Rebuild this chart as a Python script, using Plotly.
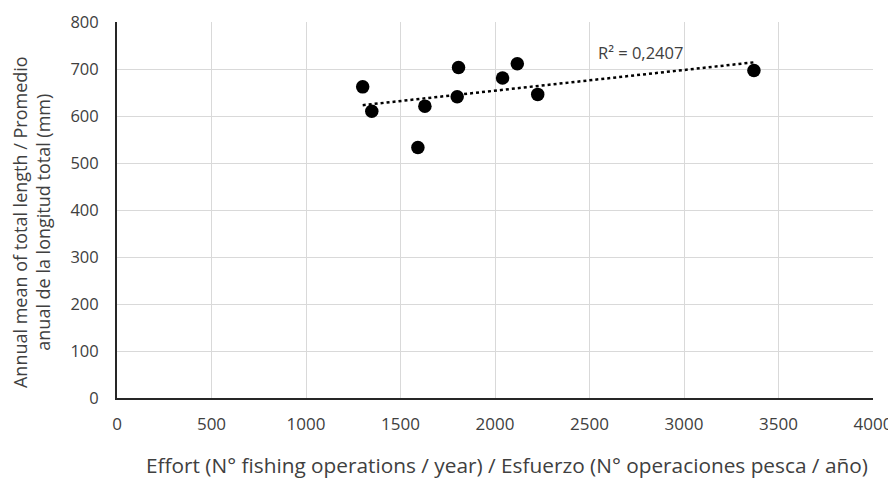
import numpy as np
import plotly.graph_objects as go

effort = [1300, 1348, 1592, 1629, 1807, 1800, 2040, 2118, 2226, 3370]
mean_length = [662, 610, 533, 621, 703, 641, 681, 711, 646, 697]
x_ticks = [0, 500, 1000, 1500, 2000, 2500, 3000, 3500, 4000]
y_ticks = [0, 100, 200, 300, 400, 500, 600, 700, 800]
r2_label = "R² = 0,2407"
x_title = "Effort (N° fishing operations / year) / Esfuerzo (N° operaciones pesca / año)"
y_title = "Annual mean of total length / Promedio<br>anual de la longitud total (mm)"

slope, intercept = np.polyfit(effort, mean_length, 1)
tx = [min(effort), max(effort)]
ty = [slope * v + intercept for v in tx]

font_family = "Open Sans"
text_color = "#404040"
fig = go.Figure()
fig.add_trace(go.Scatter(x=tx, y=ty, mode="lines",
                         line=dict(color="black", width=2.5, dash="dot"),
                         showlegend=False, hoverinfo="skip"))
fig.add_trace(go.Scatter(x=effort, y=mean_length, mode="markers",
                         marker=dict(color="black", size=13.5),
                         showlegend=False))
fig.add_annotation(x=2768, y=735, text=r2_label, showarrow=False,
                   font=dict(family=font_family, size=16.5, color=text_color))
fig.add_annotation(xref="paper", yref="paper", x=0.516, y=0, yshift=-67,
                   xanchor="center", yanchor="middle", text=x_title, showarrow=False,
                   font=dict(family=font_family, size=20.8, color=text_color))
fig.add_annotation(xref="paper", yref="paper", x=0, y=0.468, xshift=-86,
                   xanchor="center", yanchor="middle", text=y_title, showarrow=False,
                   textangle=-90,
                   font=dict(family=font_family, size=18, color=text_color))

# page body has an 8px default margin, so the figure is sized to fit the window
fig.update_layout(
    width=888, height=476,
    margin=dict(l=109, r=23, t=14, b=86),
    paper_bgcolor="white", plot_bgcolor="white",
    font=dict(family=font_family, size=16.5, color=text_color),
    xaxis=dict(range=[0, 4000], tickvals=x_ticks, showgrid=True,
               gridcolor="#d9d9d9", gridwidth=1, zeroline=False,
               showline=True, linecolor="#262626", linewidth=2,
               ticks="", ticklabelstandoff=10, automargin=False,
               tickfont=dict(size=17)),
    yaxis=dict(range=[0, 800], tickvals=y_ticks, showgrid=True,
               gridcolor="#d9d9d9", gridwidth=1, zeroline=False,
               showline=True, linecolor="#262626", linewidth=2,
               ticks="", ticklabelstandoff=13, automargin=False,
               tickfont=dict(size=16.5)),
)
fig.write_html("out.html")
